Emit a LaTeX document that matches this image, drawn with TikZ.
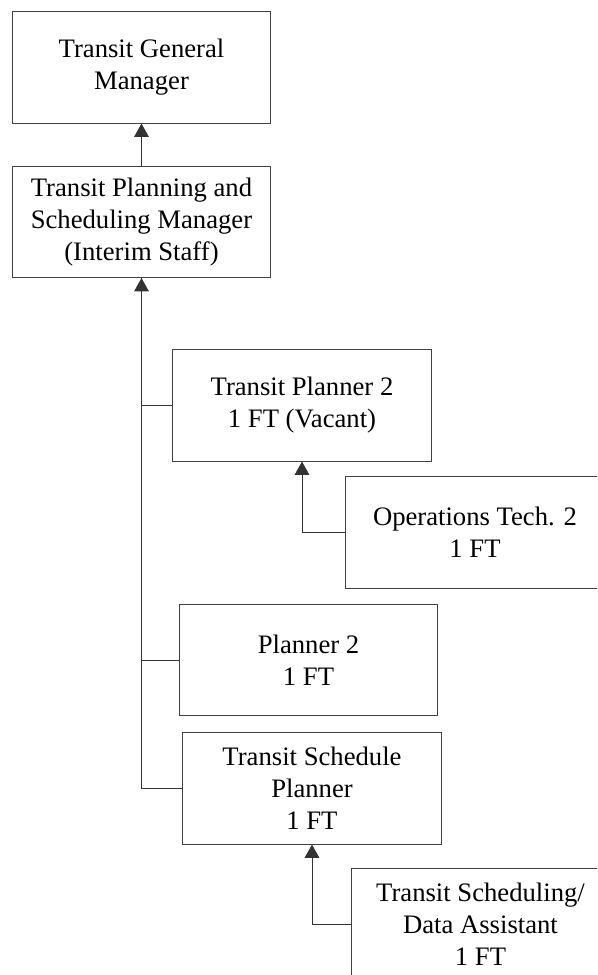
\documentclass[tikz,border=0pt]{standalone}
\usepackage{fontspec}
\setmainfont{Liberation Serif}
\usetikzlibrary{arrows.meta}

\begin{document}
\begin{tikzpicture}[x=0.75pt, y=-0.75pt,
  box/.style={draw=black!75, line width=0.6pt, align=center, inner sep=0pt,
    minimum width=194pt, minimum height=83.5pt,
    font=\fontsize{20}{24}\selectfont},
  link/.style={draw=black!80, line width=0.6pt},
  up/.style={link, -{Triangle[width=11pt, length=10pt]}}]
\useasboundingbox (0,0) rectangle (597,975);
\clip (0,0) rectangle (597,975);
\node[box] (gm)  at (141.5,67.5) {Transit General\\Manager};
\node[box] (psm) at (141.5,222)  {Transit Planning and\\Scheduling Manager\\(Interim Staff)};
\node[box] (tp2) at (302,405.5)  {Transit Planner 2\\1 FT (Vacant)};
\node[box] (ops) at (475,532.5)  {Operations Tech. 2\\1 FT};
\node[box] (pl2) at (308.5,660)  {Planner 2\\1 FT};
\node[box] (tsp) at (312,788.5)  {Transit Schedule\\Planner\\1 FT};
\node[box] (tsd) at (480.5,924)  {Transit Scheduling/\\Data Assistant\\1 FT};
% reporting lines
\draw[up] (psm) -- (gm);
\draw[up, line width=0.9pt] (tsp.west) -| (psm.south);
\draw[link] (tp2.west) -| (psm.south);
\draw[link] (pl2.west) -| (psm.south);
\draw[up] (ops.west) -| (tp2.south);
\draw[up] (tsd.west) -| (tsp.south);
\end{tikzpicture}
\end{document}
